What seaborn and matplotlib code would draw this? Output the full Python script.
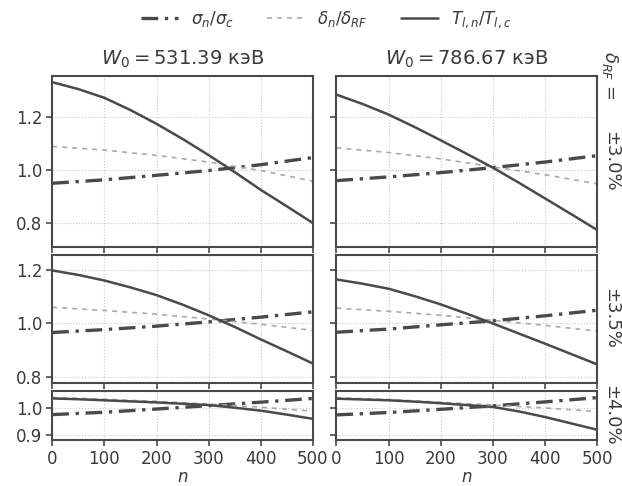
import matplotlib.pyplot as plt
import seaborn as sns

# Data
n = [0, 100, 200, 300, 400, 500]
n_fine = [0, 50, 100, 150, 200, 250, 300, 350, 400, 450, 500]
energies = ["531.39", "786.67"]
spreads = ["±3.0%", "±3.5%", "±4.0%"]

# W0 = 531.39 keV
sigma_531_30 = [0.950, 0.963, 0.980, 0.998, 1.020, 1.047]
delta_531_30 = [1.089, 1.075, 1.055, 1.030, 0.998, 0.958]
temp_531_30 = [1.331, 1.305, 1.272, 1.226, 1.174, 1.117, 1.056, 0.992, 0.925, 0.863, 0.800]

sigma_531_35 = [0.966, 0.977, 0.990, 1.006, 1.024, 1.044]
delta_531_35 = [1.061, 1.049, 1.035, 1.017, 0.997, 0.974]
temp_531_35 = [1.200, 1.183, 1.162, 1.136, 1.107, 1.071, 1.031, 0.987, 0.940, 0.895, 0.849]

sigma_531_40 = [0.975, 0.984, 0.996, 1.009, 1.022, 1.036]
delta_531_40 = [1.040, 1.033, 1.025, 1.015, 1.003, 0.988]
temp_531_40 = [1.036, 1.033, 1.029, 1.025, 1.021, 1.016, 1.011, 1.001, 0.990, 0.975, 0.959]

# W0 = 786.67 keV
sigma_786_30 = [0.960, 0.974, 0.990, 1.009, 1.030, 1.054]
delta_786_30 = [1.084, 1.066, 1.042, 1.012, 0.982, 0.948]
temp_786_30 = [1.284, 1.249, 1.209, 1.162, 1.112, 1.061, 1.009, 0.952, 0.893, 0.834, 0.774]

sigma_786_35 = [0.967, 0.979, 0.995, 1.010, 1.029, 1.050]
delta_786_35 = [1.058, 1.046, 1.031, 1.012, 0.993, 0.971]
temp_786_35 = [1.166, 1.150, 1.131, 1.103, 1.072, 1.037, 1.000, 0.962, 0.924, 0.885, 0.846]

sigma_786_40 = [0.974, 0.983, 0.995, 1.008, 1.023, 1.039]
delta_786_40 = [1.039, 1.032, 1.022, 1.011, 1.000, 0.987]
temp_786_40 = [1.035, 1.032, 1.029, 1.024, 1.018, 1.011, 1.004, 0.987, 0.966, 0.942, 0.918]

panels = [
    [(sigma_531_30, delta_531_30, temp_531_30), (sigma_786_30, delta_786_30, temp_786_30)],
    [(sigma_531_35, delta_531_35, temp_531_35), (sigma_786_35, delta_786_35, temp_786_35)],
    [(sigma_531_40, delta_531_40, temp_531_40), (sigma_786_40, delta_786_40, temp_786_40)],
]
ylims = [(0.71, 1.355), (0.775, 1.26), (0.88, 1.065)]
yticks = [[0.8, 1.0, 1.2], [0.8, 1.0, 1.2], [0.9, 1.0]]

DARK = "#4a4a4a"
LIGHT = "#aaaaaa"
TEXT = "#3a3a3a"

sns.set_style("whitegrid", {"grid.linestyle": ":", "grid.color": "#c8c8c8",
                            "axes.edgecolor": DARK, "xtick.bottom": True,
                            "ytick.left": True})
plt.rcParams["font.family"] = ["DejaVu Sans"]

fig = plt.figure(figsize=(6.22, 4.86), dpi=100)
gs = fig.add_gridspec(3, 2, height_ratios=[hi - lo for lo, hi in ylims],
                      left=0.084, right=0.960, top=0.844, bottom=0.095,
                      wspace=0.09, hspace=0.065)

handles = None
for r in range(3):
    for c in range(2):
        ax = fig.add_subplot(gs[r, c])
        sigma, delta, temp = panels[r][c]
        sns.lineplot(x=n, y=sigma, ax=ax, color=DARK, lw=2.4,
                     linestyle=(0, (5, 2, 1, 2)), label=r"$\sigma_n/\sigma_c$")
        sns.lineplot(x=n, y=delta, ax=ax, color=LIGHT, lw=1.2,
                     linestyle=(0, (3, 3)), label=r"$\delta_n/\delta_{RF}$")
        sns.lineplot(x=n_fine, y=temp, ax=ax, color=DARK, lw=1.8,
                     linestyle="-", label=r"$T_{l,n}/T_{l,c}$")
        if handles is None:
            handles, labels = ax.get_legend_handles_labels()
        ax.get_legend().remove()

        ax.set_xlim(0, 500)
        ax.set_ylim(*ylims[r])
        ax.set_xticks(n)
        ax.set_yticks(yticks[r])
        ax.tick_params(colors=DARK, labelcolor=TEXT, labelsize=12,
                       length=4, width=1.2, pad=3)
        for sp in ax.spines.values():
            sp.set_color(DARK)
            sp.set_linewidth(1.5)

        if c == 1:
            ax.set_yticklabels([])
            ax.text(1.02, 0.5, spreads[r], transform=ax.transAxes, rotation=270,
                    va="center", ha="left", fontsize=13, color=TEXT)
        if r < 2:
            ax.set_xticklabels([])
        else:
            ax.set_xlabel("$n$", fontsize=12, color=TEXT, labelpad=0)
        if r == 0:
            ax.set_title(rf"$W_0 = {energies[c]}$ кэВ", fontsize=14,
                         color=TEXT, pad=8)

fig.text(0.965, 0.895, r"$\delta_{RF}$ =", rotation=270, va="top", ha="left",
         fontsize=13, color=TEXT)

fig.legend(handles, labels, loc="upper center", bbox_to_anchor=(0.525, 1.012),
           ncol=3, frameon=False, fontsize=12, handlelength=2.2,
           columnspacing=2.0, labelcolor=TEXT)

fig.savefig("out.png", dpi=100)
plt.close(fig)
